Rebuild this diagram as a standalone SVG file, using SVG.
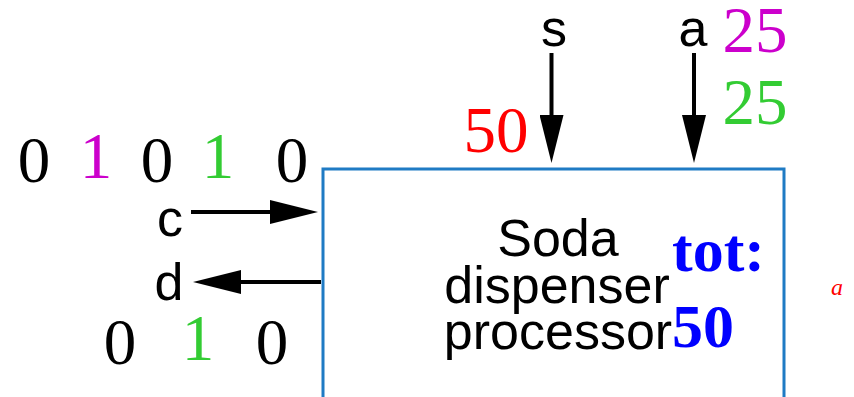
<svg xmlns="http://www.w3.org/2000/svg" width="854" height="397" viewBox="0 0 854 397">
<style>
.sans{font-family:"Liberation Sans",Arial,sans-serif;font-size:52px;fill:#000}
.num{font-family:"Liberation Serif","Times New Roman",serif;font-size:65px;text-anchor:middle}
.blk{fill:#000}.mag{fill:#cc00cc}.grn{fill:#33cc33}.red{fill:#ff0000}
.tot{font-family:"Liberation Serif","Times New Roman",serif;font-size:62px;font-weight:bold;fill:#0000ff}
.wire{stroke:#000;stroke-width:4;fill:none;marker-end:url(#ah)}
</style>
<defs>
<marker id="ah" viewBox="0 0 48 24" markerWidth="48" markerHeight="24" refX="20" refY="12" orient="auto" markerUnits="userSpaceOnUse">
<path d="M0,0 L48,12 L0,24 Z" fill="#000"/>
</marker>
</defs>
<rect width="854" height="397" fill="#fff"/>
<g id="processor">
<path d="M323,397 V169 H784 V397" fill="none" stroke="#1f7bc4" stroke-width="3"/>
<text class="sans" text-anchor="middle" font-size="50"><tspan x="558" y="256">Soda</tspan><tspan x="557" y="303">dispenser</tspan><tspan x="558" y="349">processor</tspan></text>
<text class="tot" x="672" y="271">tot:</text>
<text class="tot" x="672" y="347">50</text>
</g>
<g id="connectors">
<line class="wire" x1="551.5" y1="53" x2="551.5" y2="135"/>
<line class="wire" x1="694" y1="53" x2="694" y2="135"/>
<line class="wire" x1="191" y1="212" x2="290" y2="212"/>
<line class="wire" x1="321" y1="282" x2="221" y2="282"/>
</g>
<g id="s-input">
<text class="sans" x="554" y="46" text-anchor="middle">s</text>
<text class="num red" x="496" y="152">50</text>
</g>
<g id="a-input">
<text class="sans" x="693" y="46" text-anchor="middle">a</text>
<text class="num mag" x="755" y="52">25</text>
<text class="num grn" x="755" y="124">25</text>
</g>
<g id="c-input">
<text class="sans" x="170" y="236" text-anchor="middle">c</text>
<text class="num blk" x="34" y="182">0</text>
<text class="num mag" x="96" y="178">1</text>
<text class="num blk" x="157" y="182">0</text>
<text class="num grn" x="218" y="178">1</text>
<text class="num blk" x="292" y="182">0</text>
</g>
<g id="d-output">
<text class="sans" x="169" y="300" text-anchor="middle">d</text>
<text class="num blk" x="120" y="364">0</text>
<text class="num grn" x="198" y="360">1</text>
<text class="num blk" x="272" y="364">0</text>
</g>
<text x="837" y="295" font-family="'Liberation Serif','Times New Roman',serif" font-style="italic" font-size="24" fill="#ff0000" text-anchor="middle">a</text>
</svg>
